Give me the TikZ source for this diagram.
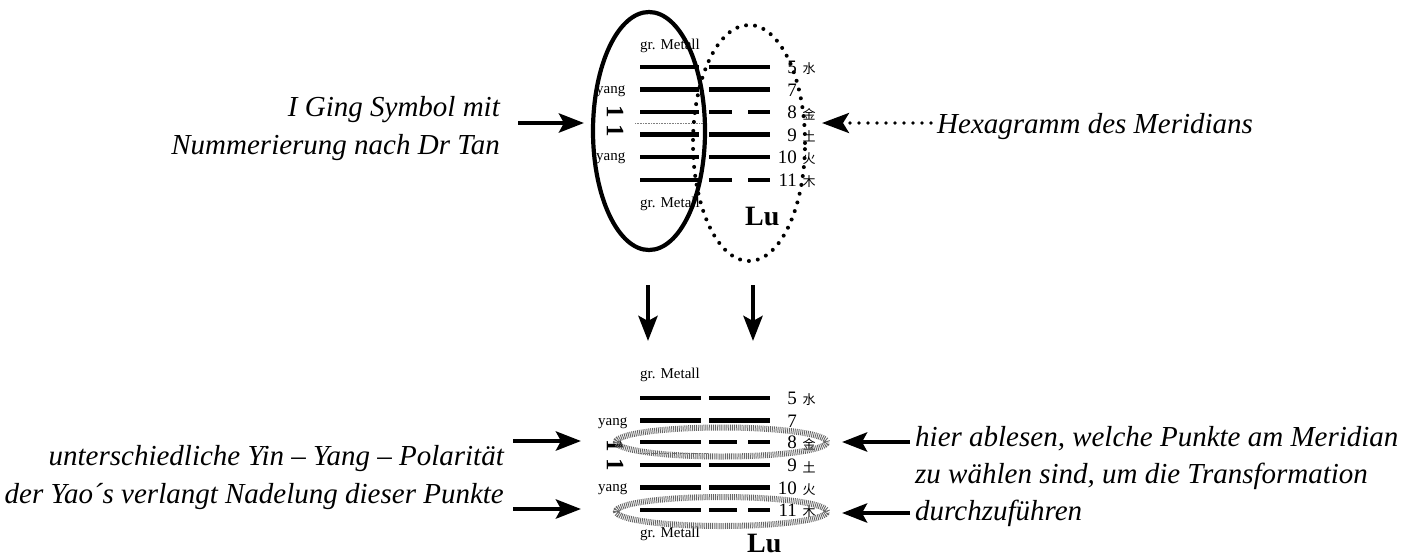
\documentclass[tikz,border=0pt]{standalone}
\usepackage{fontspec}
\setmainfont{Liberation Serif}
\newfontfamily\cjk{Noto Sans CJK SC}
\usetikzlibrary{arrows.meta,shapes.geometric}
\tikzset{
  bar/.style={line width=4.8pt},
  bigarrow/.style={line width=4.5pt,-{Stealth[length=25pt,width=19pt,inset=5pt]}},
  dotarrow/.style={line width=3.8pt,dash pattern=on 0pt off 9pt,line cap=round,-{Stealth[length=27pt,width=20pt,inset=6pt,line cap=butt]}},
  bigtext/.style={font=\fontsize{29}{37}\selectfont\itshape,inner sep=0pt},
  small/.style={font=\fontsize{15}{18}\selectfont,inner sep=0pt},
  num/.style={font=\fontsize{19}{21}\selectfont,inner sep=0pt,anchor=base east},
  chin/.style={font=\cjk\fontsize{13}{15}\selectfont,inner sep=0pt},
  lu/.style={font=\fontsize{28}{30}\selectfont\bfseries,inner sep=0pt,anchor=base west},
  oneone/.style={font=\fontsize{25}{28}\selectfont\bfseries,inner sep=0pt,rotate=-90},
  solidell/.style={ellipse,draw,line width=4.2pt,inner sep=0pt},
  dotell/.style={ellipse,draw,line width=4pt,dash pattern=on 0pt off 9pt,line cap=round,inner sep=0pt},
  hatchell/.style={ellipse,draw=black!60,line width=6pt,dash pattern=on 0.9pt off 1pt,inner sep=0pt},
  sep/.style={gray,line width=0.8pt,dash pattern=on 0.8pt off 0.8pt}
}
\begin{document}
\begin{tikzpicture}[x=1pt,y=-1pt]
\useasboundingbox (0,0) rectangle (1415,558);

% ---------- top diagram ----------
\node[small,anchor=base west] (tgm1) at (640,49) {gr. Metall};
\node[small,anchor=base west] (tgm2) at (640,207) {gr. Metall};
\node[small,anchor=base west] (tyang1) at (596,93) {yang};
\node[small,anchor=base west] (tyang2) at (596,160) {yang};
\node[oneone] (tone) at (615,121) {1 1};
\node[lu] (tlu) at (745,225) {Lu};
\draw[sep] (635,123) -- (707,123);

\foreach \y in {67,89.5,112,134.5,157,180} {
  \draw[bar] (640,\y) -- (699,\y);
}
\foreach \y in {67,89.5,134.5,157} {
  \draw[bar] (709,\y) -- (770,\y);
}
\foreach \y in {112,180} {
  \draw[bar] (709,\y) -- (732,\y);
  \draw[bar] (748,\y) -- (770,\y);
}
\node[num] (tn5) at (797,73.5) {5};
\node[num] (tn7) at (797,96) {7};
\node[num] (tn8) at (797,118.5) {8};
\node[num] (tn9) at (797,141) {9};
\node[num] (tn10) at (797,163.5) {10};
\node[num] (tn11) at (797,186.5) {11};
\node[chin] (tc5) at (809,69) {水};
\node[chin] (tc8) at (809,114) {金};
\node[chin] (tc9) at (809,136.5) {土};
\node[chin] (tc10) at (809,159) {火};
\node[chin] (tc11) at (809,182) {木};

\node[solidell,minimum width=112pt,minimum height=238pt] (E1) at (649,131) {};
\node[dotell,minimum width=112pt,minimum height=236pt] (E2) at (749,143) {};

% top texts and arrows
\node[bigtext,anchor=base east] (t1a) at (500,116) {I Ging Symbol mit};
\node[bigtext,anchor=base east] (t1b) at (500,154) {Nummerierung nach Dr Tan};
\node[bigtext,anchor=base west] (t2) at (937,133) {Hexagramm des Meridians};
\coordinate (a1s) at (518,123);
\coordinate (a1e) at (584,123);
\draw[bigarrow] (a1s) -- (a1e);
\coordinate (a2s) at (931,123);
\coordinate (a2e) at (822,123);
\draw[dotarrow] (a2s) -- (a2e);

% down arrows
\coordinate (d1s) at (648,285);
\coordinate (d1e) at (648,341);
\coordinate (d2s) at (753,285);
\coordinate (d2e) at (753,341);
\draw[bigarrow] (d1s) -- (d1e);
\draw[bigarrow] (d2s) -- (d2e);

% ---------- bottom diagram ----------
\node[small,anchor=base west] (bgm1) at (640,378) {gr. Metall};
\node[small,anchor=base west] (bgm2) at (640,537) {gr. Metall};
\node[small,anchor=base west] (byang1) at (598,425) {yang};
\node[small,anchor=base west] (byang2) at (598,491) {yang};
\node[oneone] (bone) at (615,455) {1 1};
\node[lu] (blu) at (747,552) {Lu};
\draw[sep] (638,453) -- (707,453);

\foreach \y in {398,420.5,442,465,487.5,510} {
  \draw[bar] (640,\y) -- (701,\y);
}
\foreach \y in {398,420.5,465,487.5} {
  \draw[bar] (709,\y) -- (770,\y);
}
\foreach \y in {442,510} {
  \draw[bar] (709,\y) -- (737,\y);
  \draw[bar] (748,\y) -- (770,\y);
}
\node[num] (bn5) at (797,404.5) {5};
\node[num] (bn7) at (797,427) {7};
\node[num] (bn8) at (797,448.5) {8};
\node[num] (bn9) at (797,471.5) {9};
\node[num] (bn10) at (797,494) {10};
\node[num] (bn11) at (797,516.5) {11};
\node[chin] (bc5) at (809,400) {水};
\node[chin] (bc8) at (809,444) {金};
\node[chin] (bc9) at (809,467) {土};
\node[chin] (bc10) at (809,489.5) {火};
\node[chin] (bc11) at (809,512) {木};

\node[hatchell,minimum width=211pt,minimum height=29pt] (H1) at (721.5,442) {};
\node[hatchell,minimum width=211pt,minimum height=29pt] (H2) at (721.5,511.5) {};

% bottom texts and arrows
\node[bigtext,anchor=base east] (t3a) at (504,465) {unterschiedliche Yin – Yang – Polarität};
\node[bigtext,anchor=base east] (t3b) at (504,503) {der Yao´s verlangt Nadelung dieser Punkte};
\node[bigtext,anchor=base west] (t4a) at (915,446) {hier ablesen, welche Punkte am Meridian};
\node[bigtext,anchor=base west] (t4b) at (915,483) {zu wählen sind, um die Transformation};
\node[bigtext,anchor=base west] (t4c) at (915,520) {durchzuführen};

\coordinate (b1s) at (513,441);
\coordinate (b1e) at (581,441);
\coordinate (b2s) at (513,509);
\coordinate (b2e) at (581,509);
\draw[bigarrow] (b1s) -- (b1e);
\draw[bigarrow] (b2s) -- (b2e);
\coordinate (c1s) at (910,442);
\coordinate (c1e) at (842,442);
\coordinate (c2s) at (910,513);
\coordinate (c2e) at (842,513);
\draw[bigarrow] (c1s) -- (c1e);
\draw[bigarrow] (c2s) -- (c2e);
\end{tikzpicture}
\end{document}
